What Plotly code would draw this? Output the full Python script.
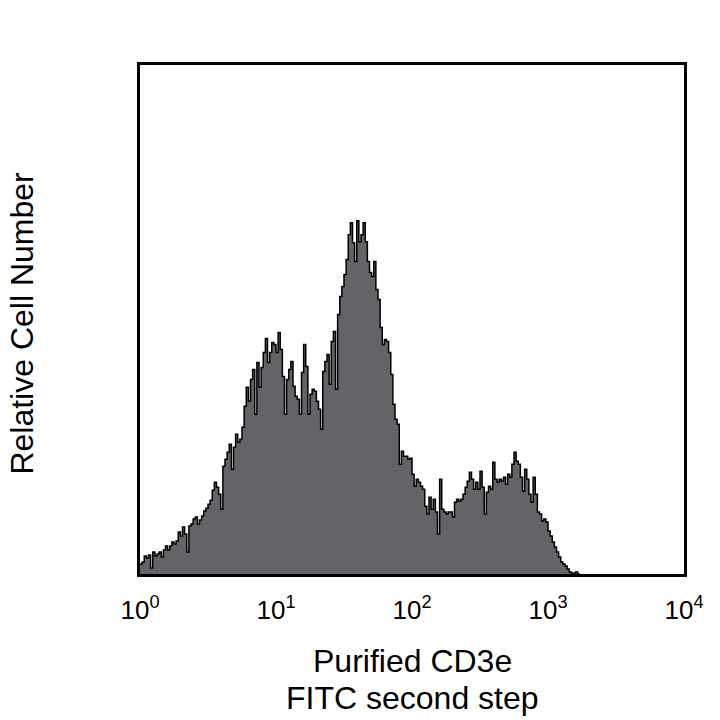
import plotly.graph_objects as go

# Flow-cytometry histogram: 64 channels per decade, log scale 10^0..10^4
CHANNELS_PER_DECADE = 64
counts = [
    10, 12, 18, 16, 19, 6, 22, 18, 20, 22,
    17, 24, 28, 24, 28, 32, 30, 33, 42, 38,
    47, 40, 22, 48, 50, 55, 57, 50, 54, 58,
    63, 66, 70, 74, 84, 92, 87, 80, 65, 108,
    115, 122, 130, 105, 127, 140, 132, 135, 147, 168,
    187, 173, 195, 205, 160, 212, 187, 207, 222, 236,
    212, 222, 232, 230, 222, 242, 225, 198, 160, 195,
    205, 213, 188, 178, 175, 160, 202, 230, 208, 160,
    180, 185, 183, 173, 165, 145, 203, 213, 220, 190,
    233, 243, 185, 260, 278, 288, 300, 315, 340, 352,
    332, 313, 354, 333, 340, 352, 333, 313, 302, 298,
    313, 285, 275, 247, 230, 235, 233, 222, 200, 170,
    155, 150, 110, 123, 118, 118, 115, 116, 100, 88,
    95, 92, 88, 85, 68, 60, 77, 65, 75, 62,
    40, 95, 65, 62, 60, 62, 62, 57, 72, 75,
    73, 75, 80, 87, 93, 102, 95, 85, 92, 85,
    103, 87, 60, 82, 88, 85, 112, 95, 92, 95,
    93, 97, 90, 100, 97, 110, 122, 113, 110, 97,
    83, 105, 95, 80, 72, 97, 80, 62, 60, 53,
    55, 52, 43, 38, 32, 27, 22, 17, 12, 10,
    8, 5, 2, 1, 1, 2, 0,
]
tick_values = [1, 10, 100, 1000, 10000]
tick_labels = ["10<sup>0</sup>", "10<sup>1</sup>", "10<sup>2</sup>",
               "10<sup>3</sup>", "10<sup>4</sup>"]
x_title_lines = ["Purified CD3e", "FITC second step"]
y_title = "Relative Cell Number"

edges = [10 ** (i / CHANNELS_PER_DECADE) for i in range(len(counts) + 1)]
ys = counts + [counts[-1]]

FONT = "Liberation Sans, Arial, sans-serif"

fig = go.Figure()
fig.add_trace(go.Scatter(
    x=edges, y=ys, mode="lines", line_shape="hv",
    fill="tozeroy", fillcolor="rgb(101,99,103)",
    line=dict(color="black", width=1.5),
    hoverinfo="skip", showlegend=False,
))

fig.update_layout(
    width=720, height=720,
    margin=dict(l=140, r=36, t=65, b=146),
    paper_bgcolor="white", plot_bgcolor="white",
    font=dict(family=FONT, color="black"),
    xaxis=dict(
        type="log", range=[0, 4],
        tickvals=tick_values, ticktext=tick_labels,
        ticks="", showgrid=False, zeroline=False,
        showline=True, mirror=True, linecolor="black", linewidth=3,
        tickfont=dict(family=FONT, size=26, color="black"),
        ticklabelstandoff=11,
    ),
    yaxis=dict(
        range=[0, 510], showticklabels=False, ticks="",
        showgrid=False, zeroline=False,
        showline=True, mirror=True, linecolor="black", linewidth=3,
    ),
    annotations=[
        dict(text=x_title_lines[0], xref="paper", yref="paper", x=0.5, y=-0.1709,
             xanchor="center", yanchor="middle", showarrow=False,
             font=dict(family=FONT, size=32, color="black")),
        dict(text=x_title_lines[1], xref="paper", yref="paper", x=0.5, y=-0.2436,
             xanchor="center", yanchor="middle", showarrow=False,
             font=dict(family=FONT, size=32, color="black")),
        dict(text=y_title, xref="paper", yref="paper", x=-0.2169, y=0.492,
             xanchor="center", yanchor="middle", showarrow=False, textangle=-90,
             font=dict(family=FONT, size=32, color="black")),
    ],
)

fig.write_html("out.html", config={"displayModeBar": False},
               post_script="document.body.style.margin='0';")
